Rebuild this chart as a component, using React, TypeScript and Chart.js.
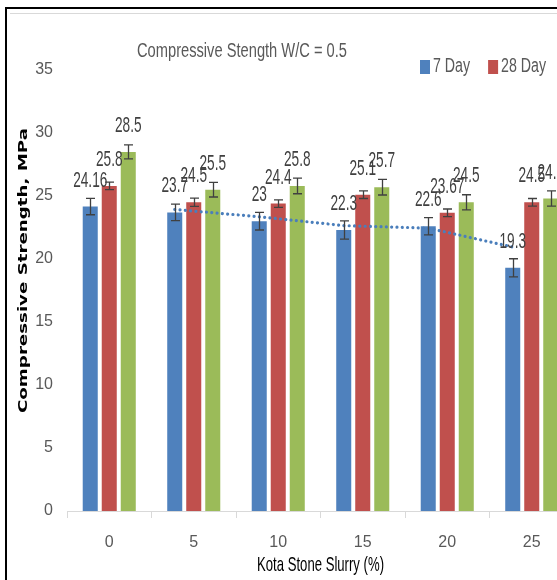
import React, { useEffect, useRef } from 'react';
import { Chart, registerables } from 'chart.js';

Chart.register(...registerables);

// ---------- data ----------
const categories = ['0', '5', '10', '15', '20', '25'];
const seriesLabels = ['7 Day', '28 Day', '56 Day'];
const day7 = [24.16, 23.7, 23, 22.3, 22.6, 19.3];
const day28 = [25.8, 24.5, 24.4, 25.1, 23.67, 24.5];
const day56 = [28.5, 25.5, 25.8, 25.7, 24.5, 24.8];
const err7 = [0.65, 0.65, 0.7, 0.73, 0.68, 0.72];
const err28 = [0.3, 0.33, 0.3, 0.3, 0.3, 0.3];
const err56 = [0.55, 0.58, 0.62, 0.62, 0.6, 0.6];
const yMin = 0;
const yMax = 35;
const yStep = 5;
const chartTitle = 'Compressive Stength W/C = 0.5';
const xTitle = 'Kota Stone Slurry (%)';
const yTitle = 'Compressive Strength, MPa';
const seriesColors = ['#4F81BD', '#C0504D', '#9BBB59'];
const errors = [err7, err28, err56];

const SANS = "'Liberation Sans', Arial, sans-serif";

function scaledText(
  ctx: CanvasRenderingContext2D,
  text: string,
  x: number,
  y: number,
  font: string,
  color: string,
  target: number | null,
  sxFixed: number,
  align: CanvasTextAlign = 'center',
  rot = 0,
  baseline: CanvasTextBaseline = 'alphabetic'
) {
  ctx.save();
  ctx.font = font;
  const sx = target ? target / ctx.measureText(text).width : sxFixed;
  ctx.translate(x, y);
  if (rot) ctx.rotate(rot);
  ctx.scale(sx, 1);
  ctx.fillStyle = color;
  ctx.textAlign = align;
  ctx.textBaseline = baseline;
  ctx.fillText(text, 0, 0);
  ctx.restore();
}

const decorPlugin = {
  id: 'decor',
  afterDatasetsDraw(chart: any) {
    const ctx: CanvasRenderingContext2D = chart.ctx;
    const yScale = chart.scales.y;
    const area = chart.chartArea;

    // trendline: 2-period moving average of 7 Day, at the 7 Day bar positions
    const meta0 = chart.getDatasetMeta(0);
    const d0 = chart.data.datasets[0].data as number[];
    ctx.save();
    ctx.strokeStyle = '#4A7EBB';
    ctx.lineWidth = 3.2;
    ctx.lineCap = 'round';
    ctx.setLineDash([0.01, 5.3]);
    ctx.beginPath();
    for (let i = 1; i < d0.length; i++) {
      const v = (d0[i - 1] + d0[i]) / 2;
      const x = meta0.data[i].x;
      const y = yScale.getPixelForValue(v);
      if (i === 1) ctx.moveTo(x, y);
      else ctx.lineTo(x, y);
    }
    ctx.stroke();
    ctx.restore();

    // error bars
    chart.data.datasets.forEach((ds: any, di: number) => {
      const meta = chart.getDatasetMeta(di);
      ctx.save();
      ctx.strokeStyle = '#404040';
      ctx.lineWidth = 1.3;
      meta.data.forEach((el: any, i: number) => {
        const v = ds.data[i];
        const e = errors[di][i];
        const yt = yScale.getPixelForValue(v + e);
        const yb = yScale.getPixelForValue(v - e);
        const x = Math.round(el.x) + 0.5;
        ctx.beginPath();
        ctx.moveTo(x, yt);
        ctx.lineTo(x, yb);
        ctx.moveTo(x - 4.5, yt);
        ctx.lineTo(x + 4.5, yt);
        ctx.moveTo(x - 4.5, yb);
        ctx.lineTo(x + 4.5, yb);
        ctx.stroke();
      });
      ctx.restore();
    });

    // data labels
    const lblFont = `22px ${SANS}`;
    ctx.save();
    ctx.font = lblFont;
    const lblSx = 7.6 / ctx.measureText('0').width;
    ctx.restore();
    chart.data.datasets.forEach((ds: any, di: number) => {
      const meta = chart.getDatasetMeta(di);
      meta.data.forEach((el: any, i: number) => {
        scaledText(ctx, String(ds.data[i]), el.x, el.y - 20, lblFont, '#404040', null, lblSx);
      });
    });

    // chart title
    scaledText(ctx, chartTitle, 242, 57, `19.5px ${SANS}`, '#595959', 210, 1);

    // legend
    const legFont = `19.5px ${SANS}`;
    ctx.save();
    ctx.font = legFont;
    const legSx = 45 / ctx.measureText(seriesLabels[1]).width;
    ctx.restore();
    let lx = 420;
    chart.data.datasets.forEach((ds: any) => {
      ctx.fillStyle = ds.backgroundColor;
      ctx.fillRect(lx, 60, 10, 14);
      scaledText(ctx, ds.label, lx + 13, 72, legFont, '#595959', null, legSx, 'left');
      ctx.save();
      ctx.font = legFont;
      const w = ctx.measureText(ds.label).width * legSx;
      ctx.restore();
      lx += 13 + w + 18;
    });

    // x axis title
    scaledText(ctx, xTitle, (area.left + area.right) / 2, 571, `21px ${SANS}`, '#000000', 127, 1);

    // y axis title
    scaledText(ctx, yTitle, 23.5, 270.5, `bold 12px 'DejaVu Sans', sans-serif`, '#000000', 285, 1, 'center', -Math.PI / 2, 'middle');
  },
};

export default function App() {
  const ref = useRef<HTMLCanvasElement | null>(null);
  useEffect(() => {
    if (!ref.current) return;
    const chart = new Chart(ref.current, {
      type: 'bar',
      data: {
        labels: categories,
        datasets: [
          { label: seriesLabels[0], data: day7, backgroundColor: seriesColors[0] },
          { label: seriesLabels[1], data: day28, backgroundColor: seriesColors[1] },
          { label: seriesLabels[2], data: day56, backgroundColor: seriesColors[2] },
        ].map((d) => ({ ...d, categoryPercentage: 0.675, barPercentage: 0.79, borderWidth: 0 })),
      },
      options: {
        responsive: false,
        animation: false,
        events: [],
        layout: { padding: { top: 70, right: 66, left: 0, bottom: 0 } },
        plugins: {
          legend: { display: false },
          title: { display: false },
          tooltip: { enabled: false },
        },
        scales: {
          x: {
            grid: { display: true, drawOnChartArea: false, drawTicks: true, tickLength: 7, color: '#d9d9d9', offset: true },
            border: { display: true, color: '#d9d9d9' },
            ticks: { color: '#595959', font: { family: SANS, size: 16 }, padding: 15 },
            afterFit: (s: any) => {
              s.height = 69;
            },
          },
          y: {
            min: yMin,
            max: yMax,
            ticks: { stepSize: yStep, color: '#595959', font: { family: SANS, size: 16 }, padding: 14 },
            grid: { display: false, drawTicks: false },
            border: { display: false },
            afterFit: (s: any) => {
              s.width = 67;
            },
          },
        },
      },
      plugins: [decorPlugin],
    });
    return () => chart.destroy();
  }, []);

  return (
    <div style={{ position: 'fixed', left: 0, top: 0, width: 557, height: 580, overflow: 'hidden', background: '#fff' }}>
      <canvas ref={ref} width={640} height={580} style={{ position: 'absolute', left: 0, top: 0, display: 'block' }} />
      <div style={{ position: 'absolute', left: 10, top: 13, width: 600, height: 0, borderTop: '1px solid #d9d9d9', pointerEvents: 'none' }} />
      <div style={{ position: 'absolute', left: 5, top: 7, width: 600, height: 600, borderLeft: '2px solid #000', borderTop: '2px solid #000', pointerEvents: 'none' }} />
    </div>
  );
}
